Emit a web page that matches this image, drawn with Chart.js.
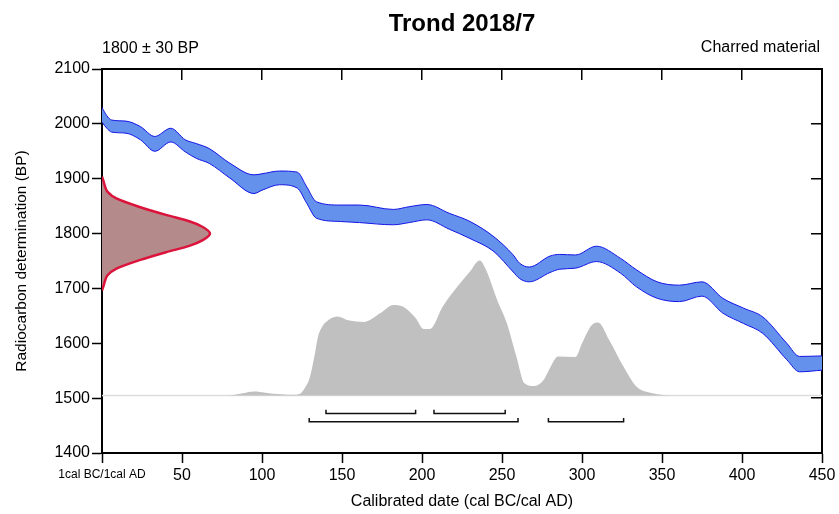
<!DOCTYPE html>
<html>
<head>
<meta charset="utf-8">
<script src="https://cdn.jsdelivr.net/npm/chart.js@4.4.1/dist/chart.umd.min.js"></script>
<style>
	body { margin: 0; background: #fff; }
	canvas { display: block; }
</style>
</head>
<body>
<canvas id="chart" width="839" height="514"></canvas>
<script>
var chartTitle = 'Trond 2018/7';
var sampleAge = '1800 \u00b1 30 BP';
var sampleMaterial = 'Charred material';
var xTitle = 'Calibrated date (cal BC/cal AD)';
var yTitle = 'Radiocarbon determination (BP)';
var zeroLabel = '1cal BC/1cal AD';

// calibration curve, 1 sigma band
var calYears = [0, 3, 6, 15, 24, 33, 43, 52, 59, 67, 80, 95, 100, 111, 122, 128, 134, 149, 161, 182, 192, 203, 217, 230, 245, 257, 261, 267, 280, 286, 296, 309, 324, 334, 347, 361, 375, 388, 401, 413, 428, 436, 450];
var calUpper = [2030, 2015, 2007, 2005, 1995, 1977, 1992, 1971, 1964, 1955, 1928, 1907, 1909, 1914, 1912, 1885, 1858, 1852, 1852, 1844, 1849, 1853, 1837, 1822, 1794, 1761, 1746, 1739, 1759, 1762, 1761, 1777, 1755, 1734, 1712, 1706, 1712, 1682, 1664, 1648, 1600, 1576, 1577];
var calLower = [2003, 1992, 1985, 1983, 1971, 1950, 1967, 1949, 1937, 1928, 1901, 1873, 1879, 1889, 1883, 1855, 1828, 1822, 1820, 1816, 1820, 1825, 1808, 1791, 1767, 1730, 1718, 1712, 1729, 1735, 1737, 1749, 1728, 1703, 1682, 1676, 1686, 1655, 1636, 1618, 1570, 1548, 1551];

// radiocarbon measurement, drawn sideways on the y axis
var measBP = [1696, 1705, 1715, 1724, 1736, 1752, 1766, 1778, 1788, 1800, 1812, 1822, 1834, 1848, 1864, 1876, 1885, 1895, 1904];
var measWidth = [0, 1, 2, 3.5, 9, 24, 40, 55, 63, 67.5, 63, 55, 40, 24, 9, 3.5, 2, 1, 0];

// calibrated probability
var distBase = 1505;
var distYears = [0, 78, 88, 95, 102, 112, 120, 123, 126, 130, 133, 135, 138, 140, 147, 154, 164, 174, 182, 188, 196, 201, 205, 213, 222, 230, 236, 240, 247, 253, 259, 264, 270, 276, 280, 285, 296, 300, 306, 310, 317, 326, 334, 344, 361, 450];
var distBP = [1505, 1505, 1509, 1512, 1510, 1507, 1506, 1507, 1515, 1539, 1580, 1612, 1632, 1639, 1649, 1642, 1639, 1655, 1670, 1667, 1646, 1626, 1626, 1667, 1703, 1731, 1751, 1734, 1679, 1637, 1576, 1527, 1522, 1533, 1555, 1576, 1575, 1600, 1633, 1638, 1606, 1557, 1521, 1509, 1505, 1505];

// probability ranges
var range68 = [[140, 196], [207.5, 252]];
var range95 = [[129.5, 260], [279, 326]];
var range68Row = 1472;
var range95Row = 1457;
var rangeTick = 7;

var xTicks = [0, 450, 50];
var yTicks = [1400, 2100, 100];

var fontFamily = '"Liberation Sans", Arial, sans-serif';
Chart.defaults.font.family = fontFamily;
Chart.defaults.color = '#000';

function toPoints(xs, ys) {
	var out = [];
	for (var i = 0; i < xs.length; i++) {
		out.push({ x: xs[i], y: ys[i] });
	}
	return out;
}

function rangeDatasets(ranges, row) {
	var sets = [];
	ranges.forEach(function (r) {
		sets.push({
			data: [
				{ x: r[0], y: row + rangeTick },
				{ x: r[0], y: row },
				{ x: r[1], y: row },
				{ x: r[1], y: row + rangeTick }
			],
			borderColor: '#111',
			borderWidth: 1.5,
			pointRadius: 0,
			fill: false,
			tension: 0
		});
	});
	return sets;
}

var cornerLabels = {
	id: 'cornerLabels',
	afterDraw: function (chart) {
		var ctx = chart.ctx;
		var area = chart.chartArea;
		ctx.save();
		ctx.font = '16px ' + fontFamily;
		ctx.fillStyle = '#000';
		ctx.textBaseline = 'middle';
		ctx.textAlign = 'left';
		ctx.fillText(sampleAge, area.left, area.top - 20);
		ctx.textAlign = 'right';
		ctx.fillText(sampleMaterial, area.right - 2, area.top - 21);
		ctx.restore();
	}
};

var datasets = [
	{
		data: toPoints(calYears, calUpper),
		borderColor: '#1414e6',
		borderWidth: 1,
		pointRadius: 0,
		fill: false,
		cubicInterpolationMode: 'monotone'
	},
	{
		data: toPoints(calYears, calLower),
		borderColor: '#1414e6',
		borderWidth: 1,
		backgroundColor: '#6491eb',
		pointRadius: 0,
		fill: '-1',
		cubicInterpolationMode: 'monotone'
	},
	{
		indexAxis: 'y',
		data: toPoints(measWidth, measBP),
		borderColor: '#dc143c',
		borderWidth: 2.5,
		backgroundColor: '#b48a8a',
		pointRadius: 0,
		fill: 'origin',
		cubicInterpolationMode: 'monotone'
	},
	{
		data: toPoints(distYears, distBP),
		borderWidth: 0,
		borderColor: 'rgba(0,0,0,0)',
		backgroundColor: '#c0c0c0',
		pointRadius: 0,
		fill: { value: distBase },
		cubicInterpolationMode: 'monotone'
	},
	{
		data: [{ x: xTicks[0], y: distBase }, { x: xTicks[1], y: distBase }],
		borderColor: '#dedede',
		borderWidth: 1.5,
		pointRadius: 0,
		fill: false
	}
].concat(rangeDatasets(range68, range68Row), rangeDatasets(range95, range95Row));

datasets.forEach(function (d) {
	d.xAxisID = 'x';
	d.yAxisID = 'y';
});

new Chart(document.getElementById('chart'), {
	type: 'line',
	data: { datasets: datasets },
	plugins: [cornerLabels],
	options: {
		responsive: false,
		animation: false,
		devicePixelRatio: 1,
		layout: { padding: 0 },
		plugins: {
			legend: { display: false },
			tooltip: { enabled: false },
			title: {
				display: true,
				text: chartTitle,
				fullSize: false,
				font: { size: 24, weight: 'bold', lineHeight: 1.2 },
				padding: { top: 10, bottom: 0 },
				color: '#000'
			}
		},
		scales: {
			x: {
				type: 'linear',
				position: 'bottom',
				min: xTicks[0],
				max: xTicks[1],
				afterFit: function (s) { s.height = 61; },
				ticks: {
					stepSize: xTicks[2],
					padding: 2.5,
					maxRotation: 0,
					autoSkip: false,
					callback: function (v) { return v === 0 ? zeroLabel : String(v); },
					font: function (c) {
						if (c.tick && c.tick.value === 0) {
							return { size: 12, lineHeight: 1.6 };
						}
						return { size: 16, lineHeight: 1.2 };
					}
				},
				grid: { drawOnChartArea: false, tickLength: 10, tickColor: '#000', tickWidth: 1.5 },
				border: { display: true, color: '#000', width: 2 },
				title: {
					display: true,
					text: xTitle,
					font: { size: 16, lineHeight: 1.2 },
					padding: { top: 0, bottom: 3 }
				}
			},
			y: {
				type: 'linear',
				position: 'left',
				min: yTicks[0],
				max: yTicks[1],
				afterFit: function (s) { s.width = 102; },
				ticks: {
					stepSize: yTicks[2],
					padding: 2,
					font: { size: 16 },
					callback: function (v) { return String(v); }
				},
				grid: { drawOnChartArea: false, tickLength: 10, tickColor: '#000', tickWidth: 1.5 },
				border: { display: true, color: '#000', width: 2 },
				title: {
					display: true,
					text: yTitle,
					font: { size: 15.5, lineHeight: 1.2 },
					padding: { top: 12.7, bottom: 0 }
				}
			},
			x2: {
				type: 'linear',
				axis: 'x',
				position: 'top',
				min: xTicks[0],
				max: xTicks[1],
				afterFit: function (s) { s.height = 30.2; },
				ticks: { stepSize: xTicks[2], display: false },
				grid: {
					drawOnChartArea: true,
					drawTicks: false,
					color: '#000',
					lineWidth: 1.5
				},
				// inward tick marks: only the first 10px of each grid line
				border: { display: true, color: '#000', width: 2, dash: [10, 3000] }
			},
			y2: {
				type: 'linear',
				axis: 'y',
				position: 'right',
				min: yTicks[0],
				max: yTicks[1],
				afterFit: function (s) { s.width = 17; },
				ticks: { stepSize: yTicks[2], display: false },
				grid: {
					drawOnChartArea: true,
					drawTicks: false,
					color: '#000',
					lineWidth: 1.5
				},
				// grid lines run left to right, keep only the last 10px
				border: { display: true, color: '#000', width: 2, dash: [0, 709, 10, 3000] }
			}
		}
	}
});
</script>
</body>
</html>
